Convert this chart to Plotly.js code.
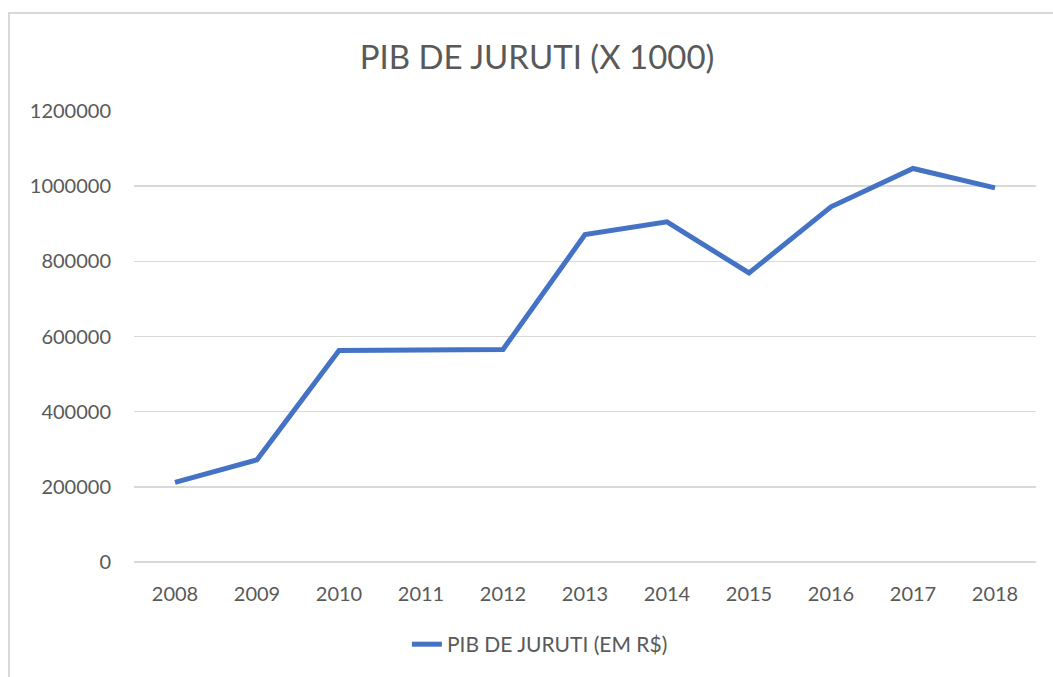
<!DOCTYPE html>
<html>
<head>
<meta charset="utf-8">
<script src="https://cdn.plot.ly/plotly-3.0.1.min.js"></script>
<style>
  html, body { margin: 0; padding: 0; background: #fff; }
  #frame { position: absolute; left: 8px; top: 12px; width: 1100px; height: 700px;
           border-left: 2px solid #d9d9d9; border-top: 2px solid #d9d9d9; box-sizing: border-box; }
  #chart { position: absolute; left: 0; top: 0; width: 1053px; height: 677px; }
</style>
</head>
<body>
<div id="frame"></div>
<div id="chart"></div>
<script>
const years = ["2008","2009","2010","2011","2012","2013","2014","2015","2016","2017","2018"];
const pib = [212000, 272000, 563000, 564500, 565500, 871000, 905000, 769000, 945000, 1047000, 995500];
const yTicks = [0, 200000, 400000, 600000, 800000, 1000000, 1200000];
const seriesName = "PIB DE JURUTI (EM R$)";
const chartTitle = "PIB DE JURUTI (X 1000)";

const font = "Lato, 'Open Sans', sans-serif";
const txt = "#595959";

Plotly.newPlot("chart", [{
  x: years, y: pib, type: "scatter", mode: "lines", name: seriesName,
  line: { color: "#4472C4", width: 5 }
}], {
  width: 1053, height: 677,
  paper_bgcolor: "rgba(0,0,0,0)", plot_bgcolor: "rgba(0,0,0,0)",
  margin: { l: 134, r: 17, t: 111, b: 115, autoexpand: false },
  font: { family: font, color: txt, size: 20 },
  title: { text: chartTitle, font: { family: font, size: 33, color: txt }, x: 0.51, xanchor: "center", y: 0.915, yanchor: "middle" },
  showlegend: true,
  legend: { orientation: "h", x: 0.45, xanchor: "center", y: -0.183, yanchor: "middle", font: { family: font, size: 21, color: txt } },
  xaxis: { type: "category", range: [-0.5, 10.5], automargin: false, showgrid: false, zeroline: false, showline: false, ticks: "", tickfont: { size: 20, color: txt }, ticklabelstandoff: 18 },
  yaxis: { range: [0, 1200000], automargin: false, tickvals: yTicks, ticktext: yTicks.map(String), showgrid: true, gridcolor: "#d9d9d9", gridwidth: 1.5, zeroline: true, zerolinecolor: "#d9d9d9", zerolinewidth: 1.5, showline: false, ticks: "", tickfont: { size: 20, color: txt }, ticklabelstandoff: 22 }
}, { displayModeBar: false, staticPlot: true });
</script>
</body>
</html>
